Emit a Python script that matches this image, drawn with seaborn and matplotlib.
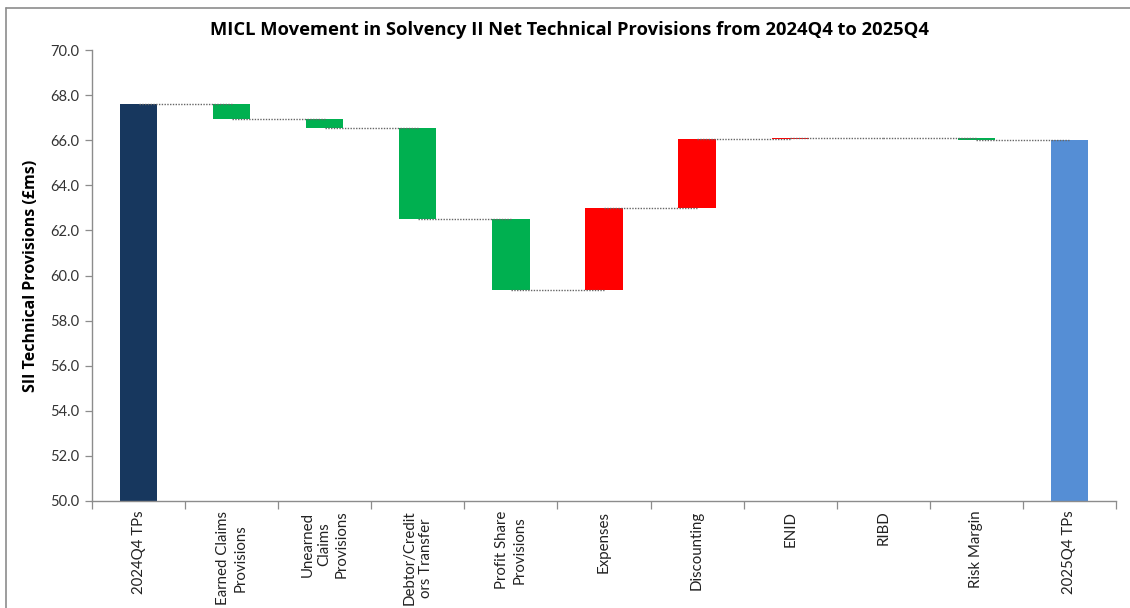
import matplotlib
matplotlib.use("Agg")
import matplotlib.pyplot as plt
import seaborn as sns
import numpy as np
import pandas as pd
from matplotlib.lines import Line2D

categories = ["2024Q4 TPs", "Earned Claims\nProvisions", "Unearned\nClaims\nProvisions",
              "Debtor/Credit\nors Transfer", "Profit Share\nProvisions", "Expenses",
              "Discounting", "ENID", "RIBD", "Risk Margin", "2025Q4 TPs"]
start_value = 67.62
movements = [-0.66, -0.43, -4.03, -3.13, 3.64, 3.05, 0.04, -0.01, -0.07]
end_value = 66.00
y_ticks = [50.0, 52.0, 54.0, 56.0, 58.0, 60.0, 62.0, 64.0, 66.0, 68.0, 70.0]

# build waterfall table
bottoms, heights, colors, levels = [], [], [], []
bottoms.append(0); heights.append(start_value); colors.append("#17375E"); levels.append(start_value)
level = start_value
for m in movements:
    new = level + m
    bottoms.append(min(level, new))
    heights.append(abs(m))
    colors.append("#FF0000" if m > 0 else "#00B050")
    level = new
    levels.append(level)
bottoms.append(0); heights.append(end_value); colors.append("#558ED5"); levels.append(end_value)

df = pd.DataFrame({"cat": categories, "height": heights, "bottom": bottoms})

sns.set_theme(style="white")
plt.rcParams["font.family"] = ["Open Sans", "DejaVu Sans"]

fig = plt.figure(figsize=(11.3, 6.08), dpi=100)
ax = fig.add_axes([92 / 1130, 1 - 501 / 608, (1116 - 92) / 1130, (501 - 50) / 608])

sns.barplot(data=df, x="cat", y="height", order=categories,
            bottom=df["bottom"].values, width=0.4, saturation=1, ax=ax,
            color="#17375E", linewidth=0, errorbar=None)
for patch, c in zip(ax.patches, colors):
    patch.set_facecolor(c)
    patch.set_edgecolor(c)

# connectors: from centre of bar i to centre of bar i+1
for i in range(len(categories) - 1):
    lvl = levels[i]
    ax.plot([i, i + 1], [lvl, lvl], color="#666666", linestyle=(0, (1, 1)), linewidth=1.0, zorder=3)

ax.set_ylim(50, 70)
ax.set_xlim(-0.5, len(categories) - 0.5)
ax.set_yticks(y_ticks)
ax.set_yticklabels([f"{v:.1f}" for v in y_ticks], fontsize=10.5, color="#333333",
                   family=["Lato", "DejaVu Sans"])
ax.set_xlabel("")
ax.set_ylabel("SII Technical Provisions (£ms)", fontsize=11.5, fontweight="bold", color="black", labelpad=8)

# x ticks at category boundaries, labels at centres
ax.set_xticks(np.arange(-0.5, len(categories), 1.0))
ax.set_xticklabels([])
ax.set_xticks(np.arange(len(categories)), minor=True)
ax.set_xticklabels(categories, minor=True, rotation=90, fontsize=10.8, color="#222222",
                   va="top", ha="center", multialignment="center", linespacing=1.3,
                   family=["Lato", "DejaVu Sans"])
ax.tick_params(axis="x", which="major", direction="out", length=6, width=0.9, color="#8C8C8C", bottom=True)
ax.tick_params(axis="x", which="minor", length=0, pad=7, bottom=True)
ax.tick_params(axis="y", direction="out", length=5, width=0.9, color="#8C8C8C", left=True, pad=4)

for s in ["top", "right"]:
    ax.spines[s].set_visible(False)
for s in ["left", "bottom"]:
    ax.spines[s].set_color("#8C8C8C")
    ax.spines[s].set_linewidth(1.0)
ax.grid(False)

fig.text(0.5 * (213 + 925) / 1130, 1 - 30 / 608,
         "MICL Movement in Solvency II Net Technical Provisions from 2024Q4 to 2025Q4",
         ha="center", va="center", fontsize=13.2, fontweight="bold", color="black")

# outer chart border (top and left edges visible)
fig.add_artist(Line2D([6 / 1130, 6 / 1130], [0, 1 - 8 / 608], transform=fig.transFigure,
                      color="#8C8C8C", linewidth=1.2))
fig.add_artist(Line2D([6 / 1130, 1], [1 - 8 / 608, 1 - 8 / 608], transform=fig.transFigure,
                      color="#8C8C8C", linewidth=1.2))

fig.savefig("out.png", dpi=100)
